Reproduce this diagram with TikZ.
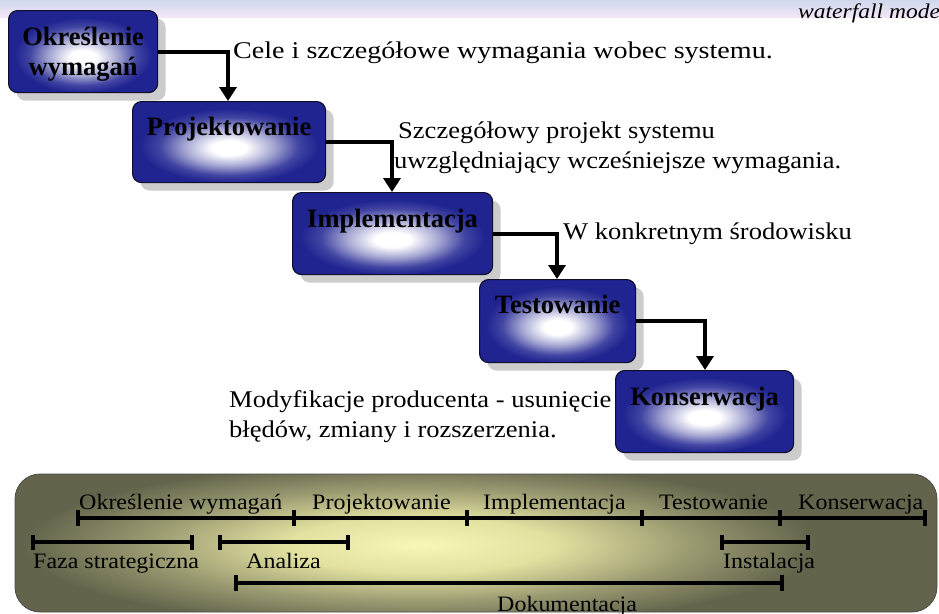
\documentclass[tikz,border=0pt]{standalone}
\usepackage{fontspec}
\setmainfont{Liberation Serif}
\newfontfamily\boxfont{Liberation Serif}
\newfontfamily\celefont[FakeStretch=1.17]{Liberation Serif}
\newfontfamily\labfont[FakeStretch=1.105]{Liberation Serif}
\newfontfamily\barfont[FakeStretch=1.09]{Liberation Serif}
\newfontfamily\hdfont[FakeStretch=1.12]{Liberation Serif Italic}
\usetikzlibrary{arrows.meta,shadows}
\definecolor{navy}{RGB}{32,36,145}
\definecolor{navyedge}{RGB}{15,15,45}
\definecolor{olivedark}{RGB}{100,100,76}
\definecolor{olivemid}{RGB}{152,152,112}
\definecolor{olivelight}{RGB}{226,225,160}
\definecolor{paleyel}{RGB}{248,246,184}
\definecolor{hdtop}{RGB}{208,216,238}
\definecolor{hdbot}{RGB}{243,230,246}
\pgfdeclareradialshading{boxshade}{\pgfpoint{0bp}{-4bp}}{color(0bp)=(white); color(4.5bp)=(white); color(11.5bp)=(navy!40!white); color(18bp)=(navy!85!white); color(23bp)=(navy); color(50bp)=(navy)}
\pgfdeclareradialshading{panelshade}{\pgfpoint{0bp}{0bp}}{color(0bp)=(paleyel); color(6bp)=(olivelight); color(12.5bp)=(olivemid); color(18bp)=(olivedark); color(50bp)=(olivedark)}
\tikzset{
  phase/.style={draw=navyedge, line width=1.2pt, rounded corners=9pt, shade, shading=boxshade,
    anchor=north west, inner sep=0pt,
    drop shadow={shadow xshift=8pt, shadow yshift=-8pt, fill=black!20, opacity=1}},
  phasetext/.style={font=\boxfont\bfseries\fontsize{26.5}{30}\selectfont, anchor=base, inner sep=0pt},
  flow/.style={line width=3.8pt, line join=miter, -{Triangle[width=17pt,length=14pt]}},
  note/.style={font=\labfont\fontsize{24}{28}\selectfont, anchor=base west, inner sep=0pt},
  bartext/.style={font=\barfont\fontsize{22}{26}\selectfont, anchor=base west, inner sep=0pt},
  bar/.style={line width=4pt, line cap=butt},
  panelrim/.style={draw=black!70, line width=0.8pt, rounded corners=25pt},
}
\begin{document}
\begin{tikzpicture}[x=1pt,y=-1pt]
\useasboundingbox (0,0) rectangle (939,613);
\clip (0,0) rectangle (939,613);
% header band
\fill[top color=hdtop, bottom color=hdbot] (0,0) rectangle (939,17);
\node[font=\hdfont\fontsize{21}{24}\selectfont, anchor=base west, inner sep=0pt] (hd) at (798,18) {waterfall model};
% phase boxes
\node[phase, minimum width=149pt, minimum height=82pt] (b1) at (8,10) {};
\node[phase, minimum width=193pt, minimum height=81pt] (b2) at (132,101) {};
\node[phase, minimum width=200pt, minimum height=82pt] (b3) at (292,192) {};
\node[phase, minimum width=156pt, minimum height=83pt] (b4) at (479,279) {};
\node[phase, minimum width=178pt, minimum height=82pt] (b5) at (615,370) {};
\node[phasetext] (t1a) at ([yshift=-35pt]b1.north) {Określenie};
\node[phasetext] (t1b) at ([yshift=-65pt]b1.north) {wymagań};
\node[phasetext] (t2) at ([yshift=-34pt]b2.north) {Projektowanie};
\node[phasetext] (t3) at ([yshift=-35pt]b3.north) {Implementacja};
\node[phasetext] (t4) at ([yshift=-34pt]b4.north) {Testowanie};
\node[phasetext] (t5) at ([yshift=-35pt]b5.north) {Konserwacja};
% connectors
\draw[flow] (b1.east) -| ([xshift=96pt]b2.north west);
\draw[flow] (b2.east) -| ([xshift=100pt]b3.north west);
\draw[flow] (b3.east) -| ([xshift=78pt]b4.north west);
\draw[flow] (b4.east) -| ([xshift=90pt]b5.north west);
% notes
\node[note, font=\celefont\fontsize{24}{28}\selectfont] (n1) at (233,58) {Cele i szczegółowe wymagania wobec systemu.};
\node[note] (n2a) at (398,138) {Szczegółowy projekt systemu};
\node[note] (n2b) at (394,168) {uwzględniający wcześniejsze wymagania.};
\node[note] (n3) at (563,239) {W konkretnym środowisku};
\node[note] (n4a) at (229,407) {Modyfikacje producenta - usunięcie};
\node[note] (n4b) at (229,437) {błędów, zmiany i rozszerzenia.};
% bottom panel
\begin{scope}
  \clip[rounded corners=25pt] (15,474) rectangle (937,612);
  \shade[shading=panelshade] (-130,430) rectangle (970,660);
\end{scope}
\draw[panelrim] (15,474) rectangle (937,612);
\draw[bar] (78,518) -- (925,518);
\foreach \x in {78,294,467,642,780,925} \draw[bar] (\x,510) -- (\x,526);
\draw[bar] (33,542) -- (192,542);
\draw[bar] (220,542) -- (348,542);
\draw[bar] (722,542) -- (808,542);
\foreach \x in {33,192,220,348,722,808} \draw[bar] (\x,535) -- (\x,550);
\draw[bar] (236,583) -- (782,583);
\foreach \x in {236,782} \draw[bar] (\x,575) -- (\x,591);
\node[bartext] (p1) at (79,509) {Określenie wymagań};
\node[bartext] (p2) at (312,509) {Projektowanie};
\node[bartext] (p3) at (483,509) {Implementacja};
\node[bartext] (p4) at (659,509) {Testowanie};
\node[bartext] (p5) at (798,509) {Konserwacja};
\node[bartext] (q1) at (33,568) {Faza strategiczna};
\node[bartext] (q2) at (246,568) {Analiza};
\node[bartext] (q3) at (723,568) {Instalacja};
\node[bartext] (q4) at (497,611) {Dokumentacja};
\end{tikzpicture}
\end{document}
